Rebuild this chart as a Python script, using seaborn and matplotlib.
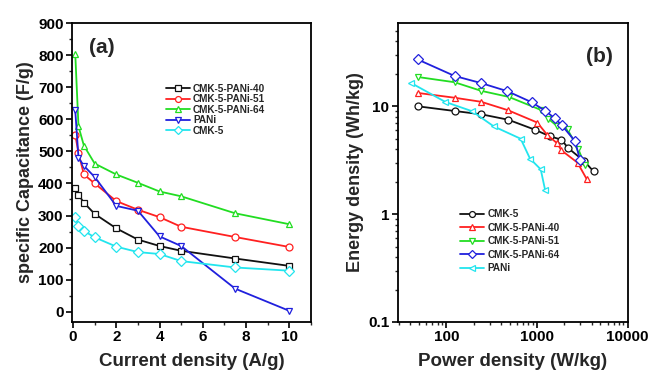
import numpy as np
import pandas as pd
import seaborn as sns
import matplotlib.pyplot as plt
from matplotlib.ticker import MultipleLocator, LogLocator, FixedLocator, FixedFormatter, NullFormatter

# panel (a): specific capacitance vs current density
current = [0.1, 0.25, 0.5, 1, 2, 3, 4, 5, 7.5, 10]
cap_pani40 = [385, 365, 340, 305, 260, 225, 205, 190, 166, 143]
cap_pani51 = [552, 495, 428, 400, 345, 318, 295, 265, 233, 202]
cap_pani64 = [805, 578, 518, 462, 428, 402, 375, 360, 307, 273]
cap_pani = [628, 480, 455, 420, 330, 315, 235, 205, 72, 3]
cap_cmk5 = [295, 268, 252, 232, 203, 186, 180, 158, 138, 128]

# panel (b): Ragone plot
p_cmk5 = [48, 123, 242, 482, 944, 1393, 1862, 2204, 3314, 4207]
e_cmk5 = [10.0, 9.04, 8.43, 7.5, 6.07, 5.26, 4.9, 4.1, 3.1, 2.49]
p_pani40 = [48, 123, 242, 477, 1008, 1303, 1653, 1862, 2799, 3548]
e_pani40 = [13.3, 12.0, 11.0, 9.2, 7.06, 5.4, 4.57, 3.9, 3.0, 2.1]
p_pani51 = [48, 123, 242, 490, 1120, 1325, 1682, 2170, 2843, 3375]
e_pani51 = [18.7, 16.7, 13.9, 12.2, 9.2, 7.7, 6.5, 6.1, 4.05, 2.83]
p_pani64 = [48, 123, 242, 470, 873, 1227, 1571, 1878, 2638, 2972]
e_pani64 = [27.2, 19.1, 16.4, 13.8, 10.9, 9.1, 7.74, 6.67, 4.73, 3.2]
p_pani = [41, 97.5, 192, 334, 660, 837, 1099, 1227]
e_pani = [16.4, 10.96, 9.0, 6.5, 5.0, 3.27, 2.6, 1.68]

black, red, green, blue, cyan = "#111111", "#ff2020", "#22dd22", "#2020dd", "#22e5ee"

sns.set_style("ticks")
plt.rcParams["font.family"] = ["Liberation Sans", "DejaVu Sans"]
plt.rcParams["font.weight"] = "bold"
plt.rcParams["axes.labelweight"] = "bold"

fig = plt.figure(figsize=(6.57, 3.79), dpi=100)
ax1 = fig.add_axes([0.1096, 0.1504, 0.3634, 0.7886])
ax2 = fig.add_axes([0.6053, 0.1504, 0.3500, 0.7886])


def draw(ax, x, y, color, marker, label):
    sns.lineplot(x=x, y=y, ax=ax, color=color, marker=marker, markersize=5,
                 markerfacecolor="white", markeredgecolor=color, markeredgewidth=0.9,
                 linewidth=1.3, label=label, sort=False, estimator=None)


draw(ax1, current, cap_pani40, black, "s", "CMK-5-PANi-40")
draw(ax1, current, cap_pani51, red, "o", "CMK-5-PANi-51")
draw(ax1, current, cap_pani64, green, "^", "CMK-5-PANi-64")
draw(ax1, current, cap_pani, blue, "v", "PANi")
draw(ax1, current, cap_cmk5, cyan, "D", "CMK-5")

draw(ax2, p_cmk5, e_cmk5, black, "o", "CMK-5")
draw(ax2, p_pani40, e_pani40, red, "^", "CMK-5-PANi-40")
draw(ax2, p_pani51, e_pani51, green, "v", "CMK-5-PANi-51")
draw(ax2, p_pani64, e_pani64, blue, "D", "CMK-5-PANi-64")
draw(ax2, p_pani, e_pani, cyan, "<", "PANi")

# panel (a) axes
ax1.set_xlim(-0.05, 11)
ax1.set_ylim(-32, 900)
ax1.xaxis.set_major_locator(MultipleLocator(2))
ax1.xaxis.set_minor_locator(MultipleLocator(1))
ax1.yaxis.set_major_locator(MultipleLocator(100))
ax1.yaxis.set_minor_locator(MultipleLocator(50))
ax1.set_xlabel("Current density (A/g)", fontsize=13.5, labelpad=6)
ax1.set_ylabel("specific Capacitance (F/g)", fontsize=13, labelpad=3)
ax1.text(0.07, 0.9, "(a)", transform=ax1.transAxes, fontsize=15, fontweight="bold")
ax1.legend(loc="upper left", bbox_to_anchor=(0.375, 0.81), frameon=False, fontsize=7.2,
           handlelength=2.4, handletextpad=0.35, labelspacing=0.05, borderaxespad=0,
           markerscale=0.85)

# panel (b) axes
ax2.set_xscale("log")
ax2.set_yscale("log")
ax2.set_xlim(29, 10000)
ax2.set_ylim(0.1, 59)
ax2.xaxis.set_major_locator(FixedLocator([100, 1000, 10000]))
ax2.xaxis.set_major_formatter(FixedFormatter(["100", "1000", "10000"]))
ax2.xaxis.set_minor_locator(LogLocator(base=10, subs=np.arange(2, 10)))
ax2.xaxis.set_minor_formatter(NullFormatter())
ax2.yaxis.set_major_locator(FixedLocator([0.1, 1, 10]))
ax2.yaxis.set_major_formatter(FixedFormatter(["0.1", "1", "10"]))
ax2.yaxis.set_minor_locator(LogLocator(base=10, subs=np.arange(2, 10)))
ax2.yaxis.set_minor_formatter(NullFormatter())
ax2.set_xlabel("Power density (W/kg)", fontsize=13.5, labelpad=6)
ax2.set_ylabel("Energy density (Wh/kg)", fontsize=13, labelpad=3)
ax2.text(0.82, 0.87, "(b)", transform=ax2.transAxes, fontsize=15, fontweight="bold")
ax2.legend(loc="upper left", bbox_to_anchor=(0.255, 0.39), frameon=False, fontsize=7.2,
           handlelength=2.4, handletextpad=0.35, labelspacing=0.35, borderaxespad=0,
           markerscale=0.85)

for ax in (ax1, ax2):
    for s in ax.spines.values():
        s.set_linewidth(1.3)
        s.set_color("black")
    ax.tick_params(which="major", direction="out", length=4, width=1.2, labelsize=11,
                   colors="black", pad=2)
    ax.tick_params(which="minor", direction="out", length=2.5, width=1.0)
    for lab in ax.get_xticklabels() + ax.get_yticklabels():
        lab.set_fontweight("bold")

fig.savefig("out.png", dpi=100)
